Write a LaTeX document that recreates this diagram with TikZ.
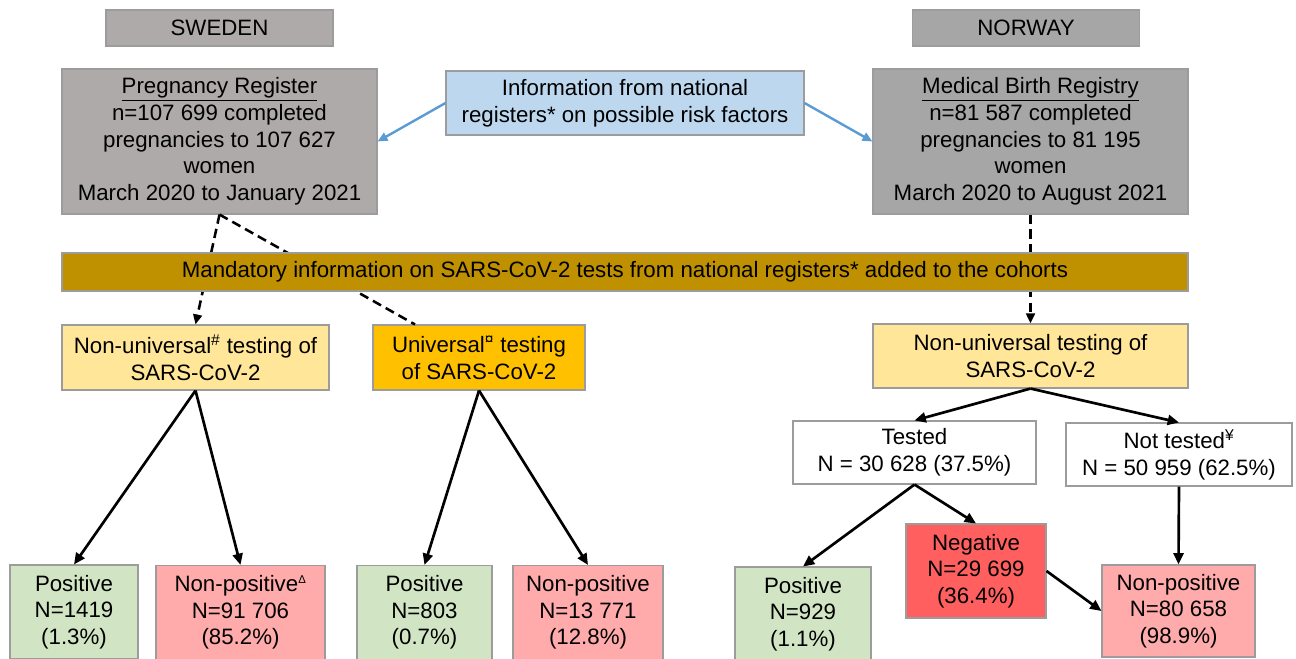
\documentclass[tikz,border=0pt]{standalone}
\usepackage{fontspec}
\setmainfont{Liberation Sans}
\usetikzlibrary{arrows.meta}

\definecolor{boxgray}{HTML}{AEAAAA}
\definecolor{regray}{HTML}{A6A6A6}
\definecolor{infoblue}{HTML}{BDD7EE}
\definecolor{bandgold}{HTML}{BF9000}
\definecolor{paleyellow}{HTML}{FFE699}
\definecolor{amber}{HTML}{FFC000}
\definecolor{posgreen}{HTML}{D1E5C4}
\definecolor{nonpospink}{HTML}{FFABAB}
\definecolor{negred}{HTML}{FF5F5F}
\definecolor{edgegray}{HTML}{9C9C9C}
\definecolor{arrowblue}{HTML}{5B9BD5}

\begin{document}
\begin{tikzpicture}[
    x=0.75pt, y=-0.75pt,
    font=\fontsize{16.7}{20}\selectfont,
    every node/.style={align=center, inner sep=0pt},
    cell/.style 2 args={draw=edgegray, line width=0.8pt,
        minimum width=#1*0.75pt, minimum height=#2*0.75pt},
    flow/.style={line width=2pt, -{Triangle[length=8.5pt,width=7.5pt]}},
    dashflow/.style={line width=1.9pt, dash pattern=on 7pt off 4pt,
        -{Triangle[length=7.5pt,width=6.5pt]}},
    dashline/.style={line width=1.9pt, dash pattern=on 7pt off 4pt},
    infoflow/.style={draw=arrowblue, line width=1.8pt,
        -{Triangle[length=7.5pt,width=6.5pt]}}
]

\useasboundingbox (0,0) rectangle (1296,658);
\clip (0,0) rectangle (1296,658);

% country headers
\node[cell={227}{36}, fill=boxgray] (sweden) at (219.5,28) {SWEDEN};
\node[cell={227}{36}, fill=regray] (norway) at (1026,28) {NORWAY};

% registers
\node[cell={315}{145}, fill=boxgray] (pregreg) at (219.5,141.5)
    {\underline{Pregnancy Register}\\n=107 699 completed\\pregnancies to 107 627\\women\\March 2020 to January 2021};
\node[cell={315}{145}, fill=regray] (birthreg) at (1030.5,141.5)
    {\underline{Medical Birth Registry}\\n=81 587 completed\\pregnancies to 81 195\\women\\March 2020 to August 2021};
\node[cell={358}{64}, fill=infoblue] (info) at (625,103)
    {Information from national\\registers* on possible risk factors};

% testing groups
\node[cell={267}{65}, fill=paleyellow] (nonuniSE) at (195.5,357.5)
    {Non-universal\textsuperscript{\#} testing of\\SARS-CoV-2};
\node[cell={212}{65}, fill=amber] (uniSE) at (479,357.5)
    {Universal\textsuperscript{¤} testing\\of SARS-CoV-2};
\node[cell={315}{64}, fill=paleyellow] (nonuniNO) at (1030.5,356)
    {Non-universal testing of\\SARS-CoV-2};

\draw[infoflow] (info.west) -- (pregreg.east);
\draw[infoflow] (info.east) -- (birthreg.west);

% dashed links run behind the band
\draw[dashflow] (pregreg.south) -- (nonuniSE.north);
\draw[dashline] (pregreg.south) -- ([xshift=-48pt]uniSE.north);
\draw[dashflow] (birthreg.south) -- (nonuniNO.north);

\node[cell={1126}{38}, fill=bandgold] (mandatory) at (625,272)
    {Mandatory information on SARS-CoV-2 tests from national registers* added to the cohorts};

% Norway tested / not tested
\node[cell={243}{63}, fill=white] (tested) at (914.5,452.5)
    {Tested\\N = 30 628 (37.5\%)};
\node[cell={226}{63}, fill=white] (nottested) at (1179,454.5)
    {Not tested\textsuperscript{¥}\\N = 50 959 (62.5\%)};

% outcomes
\node[cell={128}{94}, fill=posgreen] (posSEa) at (74,612)
    {Positive\\N=1419\\(1.3\%)};
\node[cell={169}{94}, fill=nonpospink] (nonposSEa) at (240.5,612.5)
    {Non-positive\textsuperscript{\fontsize{8.5}{8.5}\selectfont Δ}\\N=91 706\\(85.2\%)};
\node[cell={135}{94}, fill=posgreen] (posSEb) at (424.5,612.5)
    {Positive\\N=803\\(0.7\%)};
\node[cell={150}{94}, fill=nonpospink] (nonposSEb) at (588,612.5)
    {Non-positive\\N=13 771\\(12.8\%)};
\node[cell={136}{94}, fill=posgreen] (posNO) at (803,614)
    {Positive\\N=929\\(1.1\%)};
\node[cell={140}{94}, fill=negred] (negNO) at (976,571)
    {Negative\\N=29 699\\(36.4\%)};
\node[cell={153}{92}, fill=nonpospink] (nonposNO) at (1178.5,611)
    {Non-positive\\N=80 658\\(98.9\%)};

\draw[flow] (nonuniSE.south) -- (posSEa.north);
\draw[flow] (nonuniSE.south) -- (nonposSEa.north);
\draw[flow] (uniSE.south) -- (posSEb.north);
\draw[flow] (uniSE.south) -- (nonposSEb.north);

\draw[flow] (nonuniNO.south) -- (tested.north);
\draw[flow] (nonuniNO.south) -- (nottested.north);
\draw[flow] (tested.south) -- (posNO.north);
\draw[flow] (tested.south) -- (negNO.north);
\draw[flow] (nottested.south) -- (nonposNO.north);
\draw[flow] (negNO.east) -- (nonposNO.west);

\end{tikzpicture}
\end{document}
